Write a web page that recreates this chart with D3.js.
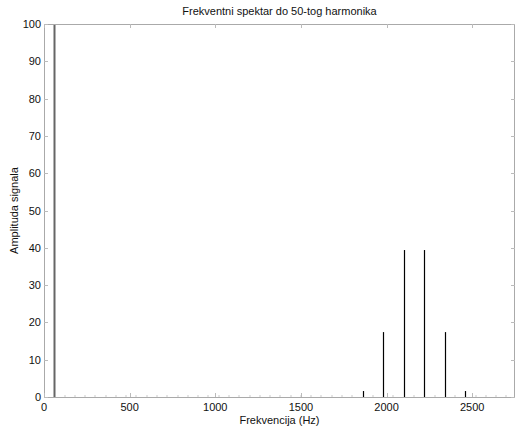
<!DOCTYPE html>
<html><head><meta charset="utf-8">
<script src="https://cdn.jsdelivr.net/npm/d3@7"></script>
<style>body{margin:0;background:#fff}svg{display:block}text{font-family:"Liberation Sans",Arial,sans-serif;fill:#111}</style>
</head><body><div id="c"></div>
<script>
const title = "Frekventni spektar do 50-tog harmonika";
const xLabel = "Frekvencija (Hz)";
const yLabel = "Amplituda signala";
const fundamental = 60;
const harmonicNumbers = [1,2,3,4,5,6,7,8,9,10,11,12,13,14,15,16,17,18,19,20,21,22,23,24,25,26,27,28,29,30,31,32,33,34,35,36,37,38,39,40,41,42,43,44,45];
const amplitudes =      [100,0,0,0,0,0,0,0,0,0,0,0,0,0,0,0,0,0,0,0,0,0,0,0,0,0,0,0,0,0,1.6,0,17.4,0,39.4,0,39.4,0,17.4,0,1.6,0,0,0,0];
const xTicks = [0,500,1000,1500,2000,2500];
const yTicks = [0,10,20,30,40,50,60,70,80,90,100];

const W=517,H=433,m={l:44,r:2,t:24,b:36};
const iw=W-m.l-m.r, ih=H-m.t-m.b;
const svg=d3.select("#c").append("svg").attr("width",W).attr("height",H);
const g=svg.append("g").attr("transform",`translate(${m.l},${m.t})`);
const x=d3.scaleLinear().domain([0,2750]).range([0,iw]);
const y=d3.scaleLinear().domain([0,100]).range([ih,0]);
const data=harmonicNumbers.map((h,i)=>({f:h*fundamental,a:amplitudes[i]}));

// zero-height bar marks
g.selectAll(".z").data(data.filter(d=>d.a===0)).enter().append("rect")
 .attr("x",d=>Math.round(x(d.f))-0.5).attr("y",ih-1.5).attr("width",1).attr("height",1).attr("fill","#999");
// stems
g.selectAll(".s").data(data.filter(d=>d.a>0)).enter().append("line")
 .attr("x1",d=>Math.round(x(d.f))+0.5).attr("x2",d=>Math.round(x(d.f))+0.5)
 .attr("y1",ih).attr("y2",d=>y(d.a))
 .attr("stroke",d=>d.a>=99?"#666":"#000").attr("stroke-width",d=>d.a>=99?2:1.2);

// axes box
g.append("rect").attr("x",0.5).attr("y",0.5).attr("width",iw-1).attr("height",ih).attr("fill","none").attr("stroke","#aaa").attr("stroke-width",1);
const tc="#bbb";
// x ticks (bottom & top, inward)
xTicks.forEach(t=>{
  const px=Math.round(x(t))+0.5;
  g.append("line").attr("x1",px).attr("x2",px).attr("y1",ih).attr("y2",ih-4).attr("stroke",tc);
  g.append("line").attr("x1",px).attr("x2",px).attr("y1",0).attr("y2",4).attr("stroke",tc);
  g.append("text").attr("x",x(t)).attr("y",ih+14).attr("text-anchor","middle").attr("font-size",11).text(t);
});
yTicks.forEach(t=>{
  const py=Math.round(y(t))+0.5;
  g.append("line").attr("x1",0).attr("x2",4).attr("y1",py).attr("y2",py).attr("stroke",tc);
  g.append("line").attr("x1",iw).attr("x2",iw-4).attr("y1",py).attr("y2",py).attr("stroke",tc);
  g.append("text").attr("x",-3).attr("y",y(t)+4).attr("text-anchor","end").attr("font-size",11).text(t);
});
svg.append("text").attr("x",m.l+iw/2).attr("y",15).attr("text-anchor","middle").attr("font-size",11).text(title);
svg.append("text").attr("x",m.l+iw/2).attr("y",424).attr("text-anchor","middle").attr("font-size",11).text(xLabel);
svg.append("text").attr("transform",`translate(18,${m.t+ih/2}) rotate(-90)`).attr("text-anchor","middle").attr("font-size",11).text(yLabel);
</script></body></html>
